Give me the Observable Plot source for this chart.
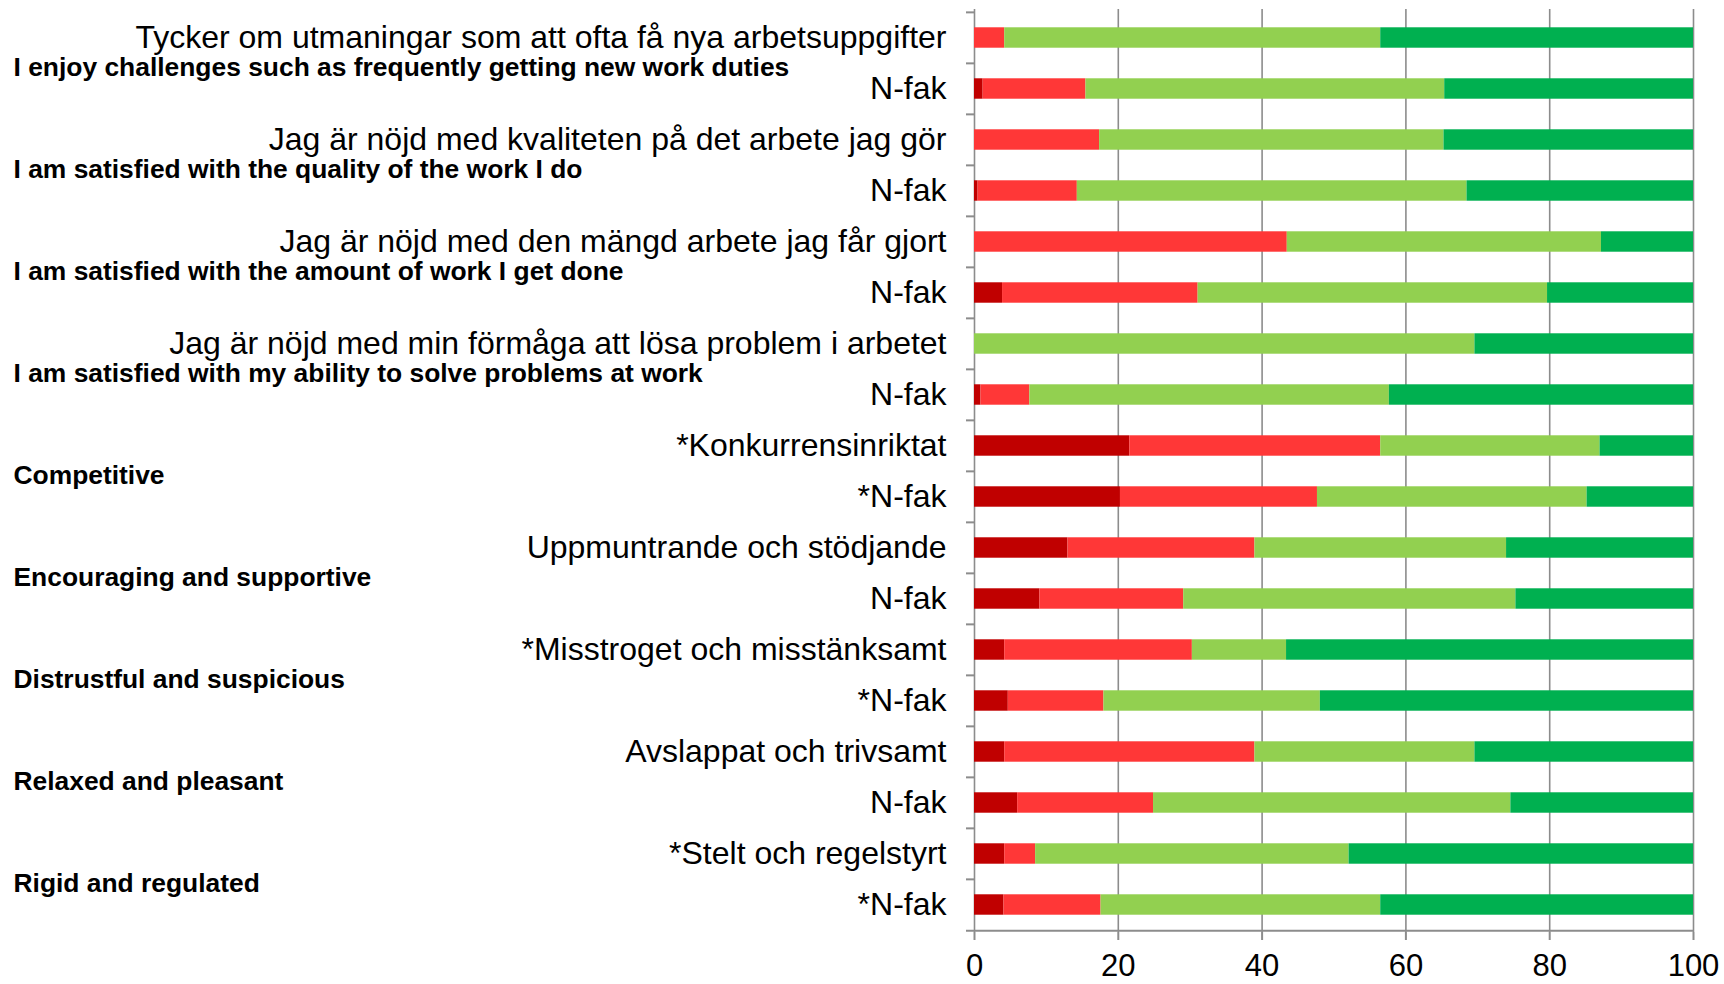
<!DOCTYPE html>
<html><head><meta charset="utf-8">
<script src="https://cdn.jsdelivr.net/npm/d3@7"></script>
<script src="https://cdn.jsdelivr.net/npm/@observablehq/plot@0.6"></script>
<style>body{margin:0;background:#fff;}</style>
</head><body><div id="chart"></div>
<script>
const rowLabels = [
  "Tycker om utmaningar som att ofta få nya arbetsuppgifter", "N-fak",
  "Jag är nöjd med kvaliteten på det arbete jag gör", "N-fak",
  "Jag är nöjd med den mängd arbete jag får gjort", "N-fak",
  "Jag är nöjd med min förmåga att lösa problem i arbetet", "N-fak",
  "*Konkurrensinriktat", "*N-fak",
  "Uppmuntrande och stödjande", "N-fak",
  "*Misstroget och misstänksamt", "*N-fak",
  "Avslappat och trivsamt", "N-fak",
  "*Stelt och regelstyrt", "*N-fak"
];
const englishLabels = [
  "I enjoy challenges such as frequently getting new work duties",
  "I am satisfied with the quality of the work I do",
  "I am satisfied with the amount of work I get done",
  "I am satisfied with my ability to solve problems at work",
  "Competitive",
  "Encouraging and supportive",
  "Distrustful and suspicious",
  "Relaxed and pleasant",
  "Rigid and regulated"
];
const seriesKeys = ["level1", "level2", "level3", "level4"];
const seriesColors = ["#C00000", "#FF3737", "#92D050", "#00B050"];
const level1 = [0, 1.2, 0, 0.5, 0, 3.9, 0, 0.9, 21.6, 20.3, 13.0, 9.1, 4.2, 4.7, 4.2, 6.0, 4.2, 4.1];
const level2 = [4.2, 14.3, 17.4, 13.8, 43.5, 27.2, 0, 6.8, 34.9, 27.4, 26.0, 20.0, 26.1, 13.3, 34.8, 18.9, 4.3, 13.5];
const level3 = [52.3, 49.9, 47.9, 54.2, 43.7, 48.6, 69.6, 50.0, 30.5, 37.5, 35.0, 46.2, 13.1, 30.1, 30.6, 49.7, 43.6, 38.9];
const level4 = [43.5, 34.6, 34.7, 31.5, 12.8, 20.3, 30.4, 42.3, 13.0, 14.8, 26.0, 24.7, 56.6, 51.9, 30.4, 25.4, 47.9, 43.5];
const xTicks = [0, 20, 40, 60, 80, 100];

const rowIds = rowLabels.map((_, i) => "r" + i);
const seriesValues = {level1, level2, level3, level4};
const table = [];
rowIds.forEach((id, i) => {
  seriesKeys.forEach(k => table.push({row: id, series: k, value: seriesValues[k][i]}));
});
const englishRows = englishLabels.map((t, k) => ({row: rowIds[2 * k], text: t}));

const width = 1724, height = 984;
const marginLeft = 974, marginRight = 31, marginTop = 9, marginBottom = 52;
const bw = (height - marginTop - marginBottom) / rowIds.length;
const barH = 20.7;
const inset = (bw - barH) / 2;
const gray = "#8c8c8c";

const chart = Plot.plot({
  width, height, marginLeft, marginRight, marginTop, marginBottom,
  style: {fontFamily: "'Liberation Sans', Arial, sans-serif", background: "#fff", color: "#000"},
  x: {domain: [0, 100], label: null},
  y: {type: "band", domain: rowIds, padding: 0, label: null},
  color: {domain: seriesKeys, range: seriesColors},
  marks: [
    Plot.gridX(xTicks, {stroke: gray, strokeOpacity: 1, strokeWidth: 1.6}),
    Plot.barX(table, Plot.stackX({x: "value", y: "row", fill: "series", order: seriesKeys, insetTop: inset, insetBottom: inset})),
    Plot.ruleY(rowIds, {y: d => d, x1: 0, x2: 0, insetLeft: -8, dy: -bw / 2, stroke: gray, strokeWidth: 2}),
    Plot.ruleY(rowIds.slice(-1), {y: d => d, x1: 0, x2: 100, insetLeft: -8, dy: bw / 2, stroke: gray, strokeWidth: 2}),
    Plot.axisX(xTicks, {tickSize: 8, tickPadding: 13, fontSize: 31, stroke: gray, strokeWidth: 2, fill: "#000", label: null}),
    Plot.axisY({tickSize: 0, tickPadding: 28, fontSize: 32, fill: "#000", label: null, tickFormat: id => rowLabels[rowIds.indexOf(id)]}),
    Plot.text(englishRows, {y: "row", text: "text", frameAnchor: "left", textAnchor: "start", dx: 13 - marginLeft, dy: 30, fontSize: 26.4, fontWeight: "bold", fill: "#000"})
  ]
});
document.getElementById("chart").appendChild(chart);
</script>
</body></html>
